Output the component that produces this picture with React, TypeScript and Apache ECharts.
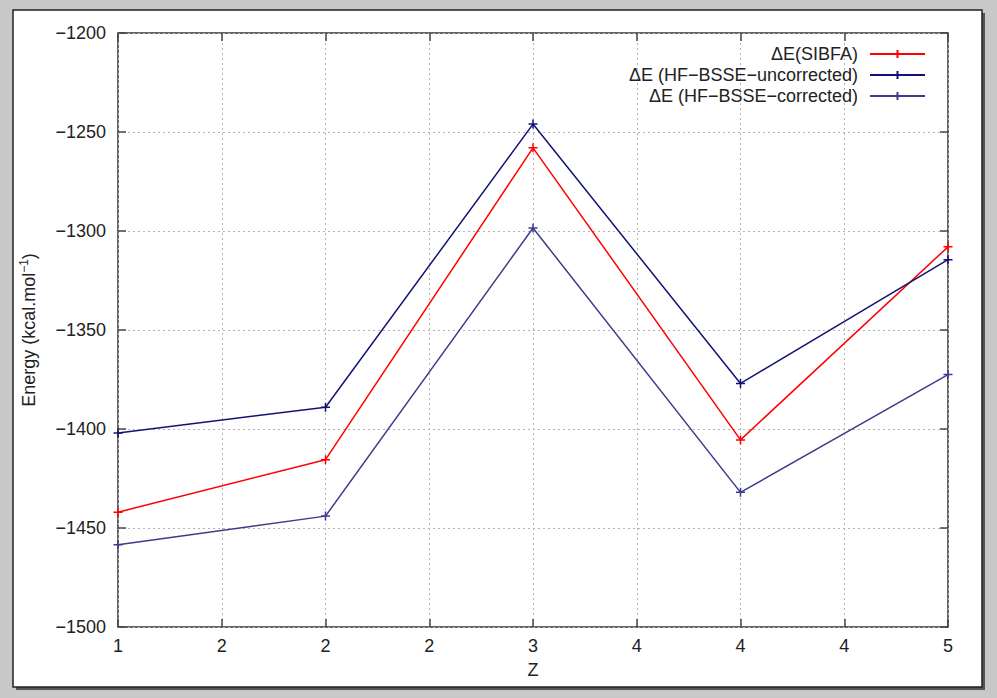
import React, { useEffect, useRef } from 'react';
import * as echarts from 'echarts';

const xValues = [1, 2, 3, 4, 5];
const sibfa = [-1442, -1415.5, -1258, -1405.5, -1308];
const hfUncorrected = [-1402, -1389, -1246, -1377, -1314.5];
const hfCorrected = [-1458.5, -1444, -1298.5, -1432, -1372.5];
const xTickValues = [1, 1.5, 2, 2.5, 3, 3.5, 4, 4.5, 5];
const xTickLabels = ['1', '2', '2', '2', '3', '4', '4', '4', '5'];
const seriesNames = ['\u0394E(SIBFA)', '\u0394E (HF\u2212BSSE\u2212uncorrected)', '\u0394E (HF\u2212BSSE\u2212corrected)'];
const seriesColors = ['#ff0000', '#121275', '#3c3c8c'];

const FONT = '"Liberation Sans", Arial, Helvetica, sans-serif';
const plusSymbol = 'path://M0,5 L10,5 M5,0 L5,10';

export default function App() {
  const ref = useRef<HTMLDivElement>(null);
  useEffect(() => {
    if (!ref.current) return;
    const chart = echarts.init(ref.current, undefined, { renderer: 'svg' });
    const seriesData = [sibfa, hfUncorrected, hfCorrected];
    const fmtX = (v: number) => {
      const i = xTickValues.findIndex((t) => Math.abs(t - v) < 1e-6);
      return i >= 0 ? xTickLabels[i] : '';
    };
    const fmtY = (v: number) => String(v).replace('-', '\u2212');
    const tickStyle = { show: true, inside: true, length: 8, lineStyle: { color: '#444', width: 1.5 } };
    chart.setOption({
      animation: false,
      backgroundColor: '#c8c8c8',
      textStyle: { fontFamily: FONT },
      graphic: [
        { type: 'rect', z: -10, shape: { x: 16, y: 13, width: 969, height: 677 }, style: { fill: '#555' } },
        { type: 'rect', z: -9, shape: { x: 13, y: 10, width: 969, height: 677 }, style: { fill: '#fff', stroke: '#222', lineWidth: 1.5 } },
      ],
      grid: { left: 118, top: 33, right: 49, bottom: 71, show: true, borderColor: '#333', borderWidth: 1.5, backgroundColor: 'transparent' },
      legend: {
        orient: 'vertical',
        align: 'right',
        right: 66,
        top: 40,
        itemWidth: 55,
        itemHeight: 10,
        itemGap: 3,
        textStyle: { fontFamily: FONT, fontSize: 18, color: '#222', padding: [0, 7, 0, 0] },
        data: seriesNames,
      },
      xAxis: [
        {
          type: 'value', min: 1, max: 5, interval: 0.5,
          name: 'Z', nameLocation: 'middle', nameGap: 34,
          nameTextStyle: { fontSize: 18, color: '#222', fontFamily: FONT },
          axisLine: { show: false },
          axisTick: tickStyle,
          axisLabel: { formatter: fmtX, fontSize: 18, color: '#222', margin: 10, fontFamily: FONT },
          splitLine: { show: true, lineStyle: { color: '#b4b4b4', type: [2, 3], width: 1 } },
        },
        {
          type: 'value', min: 1, max: 5, interval: 0.5, position: 'top',
          axisLine: { show: false }, axisTick: tickStyle, axisLabel: { show: false }, splitLine: { show: false },
        },
      ],
      yAxis: [
        {
          type: 'value', min: -1500, max: -1200, interval: 50,
          name: 'Energy (kcal.mol{sup|\u22121})', nameLocation: 'middle', nameGap: 78, nameRotate: 90,
          nameTextStyle: {
            fontSize: 18, color: '#222', fontFamily: FONT, lineHeight: 22,
            rich: { sup: { fontSize: 12, lineHeight: 12, verticalAlign: 'top', color: '#222', fontFamily: FONT } },
          },
          axisLine: { show: false },
          axisTick: tickStyle,
          axisLabel: { formatter: fmtY, fontSize: 18, color: '#222', margin: 12, fontFamily: FONT },
          splitLine: { show: true, lineStyle: { color: '#b4b4b4', type: [2, 3], width: 1 } },
        },
        {
          type: 'value', min: -1500, max: -1200, interval: 50, position: 'right',
          axisLine: { show: false }, axisTick: tickStyle, axisLabel: { show: false }, splitLine: { show: false },
        },
      ],
      series: seriesNames.map((name, k) => ({
        name,
        type: 'line',
        xAxisIndex: 0,
        yAxisIndex: 0,
        data: xValues.map((x, i) => [x, seriesData[k][i]]),
        symbol: plusSymbol,
        symbolSize: 9,
        showAllSymbol: true,
        lineStyle: { color: seriesColors[k], width: 1.5 },
        itemStyle: { color: seriesColors[k], borderColor: seriesColors[k], borderWidth: 1.5 },
        z: 3 + k,
      })),
    });
    return () => chart.dispose();
  }, []);
  return <div ref={ref} style={{ position: 'fixed', left: 0, top: 0, width: 997, height: 698 }} />;
}
